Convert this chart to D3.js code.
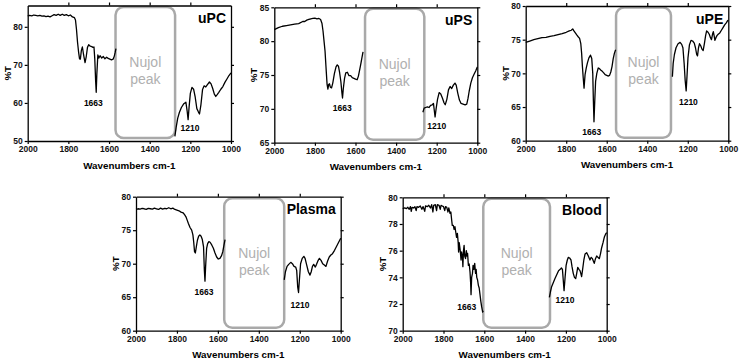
<!DOCTYPE html>
<html lang="en">
<head>
<meta charset="UTF-8">
<title>IR spectra</title>
<script src="https://cdn.jsdelivr.net/npm/d3@7"></script>
<style>
    body { margin: 0; background: #fff; }
    text { font-family: Arial, "Liberation Sans", sans-serif; }
</style>
</head>
<body>
<script>
    // wavenumber ticks shared by all panels
    var xTicks = [2000, 1800, 1600, 1400, 1200, 1000];

    // spectra: [wavenumber, %T], null = break at the Nujol region
    var upc = [[2000,82.9],[1990,83.0],[1980,82.9],[1970,83.1],[1960,83.0],[1950,82.9],[1940,83.0],[1930,82.8],[1920,82.9],[1910,82.7],[1900,82.8],[1890,82.6],[1880,82.9],[1870,83.2],[1860,83.0],[1850,83.3],[1840,83.0],[1830,83.3],[1820,83.0],[1810,83.2],[1800,82.9],[1790,83.1],[1780,82.6],[1770,82.4],[1765,81.8],[1760,79.3],[1755,76],[1750,73.5],[1745,71.6],[1741,71.5],[1736,73.8],[1731,74.7],[1725,72.6],[1718,70.6],[1712,72.2],[1706,74.6],[1700,75.3],[1692,74.9],[1685,74.8],[1679,74.6],[1674,74.7],[1670,71.5],[1666,66],[1663,62.8],[1660,67.5],[1655,72.6],[1650,71.8],[1644,72.4],[1636,71.8],[1628,72.2],[1620,71.6],[1612,72.0],[1604,71.7],[1596,71.5],[1588,71.3],[1580,71.5],[1574,72.3],[1570,73.2],[1566,74.3],
        null,
        [1276,51.2],[1270,53.5],[1262,56],[1254,57.5],[1244,58.8],[1232,59.8],[1222,60.2],[1216,58],[1211,55.6],[1206,59],[1200,62.5],[1192,64.1],[1184,63.6],[1176,61.5],[1168,58.5],[1160,57.6],[1155,57.1],[1148,59.5],[1140,63.5],[1132,64.5],[1124,64.2],[1116,64.8],[1106,65.5],[1098,65],[1090,63.8],[1082,62.3],[1075,61.7],[1068,62.2],[1060,62.8],[1050,63.6],[1040,64.3],[1030,65.4],[1020,66.3],[1010,67.2],[1000,67.9]];

    var ups = [[2000,81.7],[1980,82.0],[1960,82.2],[1940,82.3],[1920,82.4],[1900,82.5],[1880,82.6],[1860,82.9],[1850,82.9],[1840,83.1],[1830,83.2],[1820,83.3],[1810,83.35],[1800,83.4],[1790,83.3],[1780,83.35],[1772,83.2],[1765,82.6],[1760,81.5],[1755,80],[1750,78.5],[1745,76],[1740,73.6],[1736,72.9],[1732,73.6],[1728,73.7],[1724,73.2],[1718,73.1],[1712,73.8],[1704,75.2],[1696,76.2],[1690,76.5],[1684,76.3],[1678,75.3],[1672,74],[1667,72.4],[1664,71.6],[1660,73],[1654,74.5],[1648,75.3],[1640,75.4],[1632,74.9],[1624,74.9],[1616,74.6],[1608,74.5],[1600,74.4],[1592,74.3],[1586,74.8],[1580,75.7],[1574,76.6],[1568,77.6],[1563,78.4],
        null,
        [1268,69.5],[1262,70.1],[1254,70.2],[1246,70.3],[1238,70.2],[1230,70.5],[1222,70.6],[1216,70.8],[1212,69.8],[1208,68.8],[1203,70],[1196,71.4],[1188,72.4],[1180,72.2],[1172,71.6],[1164,70.9],[1158,70.6],[1150,71.4],[1142,72.8],[1134,73.3],[1126,73],[1118,73.5],[1110,73.8],[1104,73.5],[1096,72.3],[1088,71.3],[1080,70.8],[1070,70.7],[1060,70.6],[1052,70.7],[1046,71.5],[1040,72.6],[1032,73.8],[1024,74.6],[1016,75.1],[1008,75.6],[1000,76.2]];

    var upe = [[2000,74.6],[1980,74.8],[1960,75.0],[1940,75.15],[1920,75.3],[1900,75.35],[1880,75.5],[1860,75.6],[1840,75.75],[1820,75.9],[1800,76.1],[1785,76.3],[1775,76.4],[1768,76.6],[1762,76.3],[1755,76.0],[1748,75.7],[1740,75.4],[1734,75.2],[1728,74.4],[1724,73],[1720,71],[1716,69.3],[1712,67.8],[1707,69.8],[1701,70.8],[1695,71.6],[1688,72.3],[1680,72.7],[1674,72.2],[1669,70],[1666,66],[1663,62.8],[1659,66],[1655,68.8],[1649,70],[1642,70.8],[1636,70.7],[1630,70.5],[1622,70.3],[1616,70.1],[1608,69.8],[1600,69.7],[1592,69.6],[1586,69.7],[1580,70.2],[1574,71],[1568,72.2],[1562,73],[1556,73.5],
        null,
        [1276,69.5],[1272,71.5],[1266,72.8],[1258,73.8],[1248,74.4],[1238,74.6],[1230,74.3],[1224,73.8],[1218,71.5],[1213,69],[1208,67.4],[1204,69.5],[1199,72.3],[1192,74.2],[1184,74.9],[1176,74.8],[1168,74.5],[1162,73.8],[1156,72.8],[1152,72.6],[1147,73.8],[1142,74.4],[1136,74.1],[1130,73.6],[1124,73.4],[1118,74.4],[1112,75.6],[1107,76.3],[1100,76.1],[1094,75.8],[1088,75.3],[1083,75],[1078,75.8],[1074,76.2],[1070,75.6],[1066,74.9],[1061,75.3],[1056,75.6],[1050,75.8],[1042,76.0],[1034,76.4],[1026,76.8],[1018,77.2],[1010,77.5],[1004,77.8],[1000,77.9]];

    var plasma = [[2000,78.1],[1990,78.2],[1980,78.15],[1970,78.25],[1960,78.2],[1950,78.1],[1940,78.25],[1930,78.2],[1920,78.15],[1910,78.3],[1900,78.2],[1890,78.1],[1880,78.3],[1870,78.15],[1860,78.25],[1850,78.2],[1840,78.35],[1830,78.2],[1820,78.3],[1810,78.1],[1800,78.0],[1790,77.9],[1780,77.7],[1770,77.6],[1762,77.3],[1756,77.0],[1750,76.5],[1744,76.0],[1736,75.4],[1728,75.0],[1722,74.3],[1718,73.2],[1714,71.8],[1710,71.6],[1705,72.6],[1700,73.5],[1694,74.1],[1688,74.3],[1682,74.1],[1676,73.6],[1670,72.5],[1666,69],[1663,67.4],[1660,69.5],[1655,72.3],[1650,73.0],[1644,73.3],[1638,73.2],[1630,72.8],[1622,72.3],[1614,71.6],[1606,71.0],[1598,70.7],[1590,70.8],[1582,71.2],[1576,71.8],[1570,72.8],[1565,73.6],
        null,
        [1276,67.6],[1270,68.8],[1262,69.6],[1254,69.9],[1244,70.2],[1236,70.0],[1228,69.6],[1220,69.5],[1215,69.0],[1210,66.5],[1206,65.7],[1202,67.5],[1196,70.0],[1188,70.8],[1180,71.1],[1174,70.8],[1166,69.8],[1158,68.8],[1150,68.3],[1144,68.8],[1138,69.6],[1132,69.9],[1124,69.5],[1118,69.9],[1110,70.5],[1104,70.8],[1096,70.5],[1088,70.0],[1080,69.8],[1072,69.6],[1064,70.4],[1056,71.0],[1048,71.3],[1040,71.5],[1030,72.0],[1020,72.6],[1010,73.2],[1000,73.8]];

    var blood = [[2000,79.15],[1990,79.2],[1982,79.15],[1975,79.25],[1968,79.1],[1962,79.3],[1958,78.95],[1954,79.25],[1946,79.2],[1940,79.3],[1934,79.0],[1930,79.3],[1922,79.25],[1914,79.35],[1906,79.1],[1900,79.3],[1892,78.95],[1888,79.35],[1880,79.3],[1872,79.4],[1864,79.2],[1858,79.45],[1852,78.9],[1848,79.4],[1840,79.45],[1834,79.0],[1830,79.45],[1822,79.4],[1816,79.1],[1812,79.4],[1806,79.35],[1800,79.3],[1794,79.0],[1790,79.3],[1784,79.25],[1778,78.9],[1774,79.2],[1768,78.8],[1764,78.9],[1760,78.3],[1757,77.9],[1752,77.9],[1748,77.6],[1744,77.8],[1740,77.4],[1736,77.0],[1732,77.3],[1728,76.6],[1726,75.9],[1723,76.6],[1718,76.0],[1714,75.3],[1711,75.9],[1707,75.5],[1705,74.8],[1702,76.0],[1699,76.4],[1696,75.6],[1692,75.4],[1688,76.0],[1685,75.6],[1682,75.8],[1678,74.9],[1674,75.0],[1670,74.4],[1667,73.6],[1665,72.7],[1662,74.0],[1658,74.3],[1655,74.9],[1651,74.6],[1647,75.05],[1643,74.3],[1640,74.6],[1637,74.0],[1633,73.8],[1629,73.4],[1625,73.2],[1621,72.7],[1617,72.2],[1613,71.8],[1608,71.4],[1605,71.5],
        null,
        [1281,72.5],[1276,72.9],[1270,73.3],[1262,73.6],[1254,73.9],[1245,74.2],[1236,74.5],[1228,74.6],[1222,74.7],[1217,74.6],[1213,73.8],[1209,73.0],[1204,74.0],[1199,74.9],[1193,75.3],[1188,75.5],[1182,75.45],[1175,75.3],[1170,74.8],[1164,74.3],[1158,74.0],[1152,73.9],[1147,74.3],[1142,74.75],[1136,74.6],[1131,74.5],[1127,74.3],[1123,74.05],[1118,74.6],[1112,75.3],[1106,75.75],[1098,75.85],[1090,75.6],[1082,75.3],[1076,75.5],[1070,75.4],[1065,75.2],[1061,75.05],[1055,75.4],[1049,75.6],[1043,75.5],[1036,75.4],[1030,75.8],[1025,76.2],[1018,76.6],[1011,77.05],[1005,77.25],[1000,77.35]];

    // panel names, y ranges and ticks
    var names = ["uPC", "uPS", "uPE", "Plasma", "Blood"];
    var spectra = [upc, ups, upe, plasma, blood];
    var yDomains = [[50, 85.6], [65, 85], [60, 80], [60, 80], [70, 80]];
    var yTicks = [[50, 60, 70, 80], [65, 70, 75, 80, 85], [60, 65, 70, 75, 80], [60, 65, 70, 75, 80], [70, 72, 74, 76, 78, 80]];
    // Nujol window (wavenumbers) per panel
    var nujolRanges = [[1568, 1275], [1553, 1261], [1554, 1283], [1569, 1276], [1605, 1278]];
    // peak labels: [wavenumber, %T, text]
    var peakLabels = [
        [[1677, 60.1, "1663"], [1202, 53.4, "1210"]],
        [[1665, 70.1, "1663"], [1200, 67.4, "1210"]],
        [[1674, 61.3, "1663"], [1197, 65.8, "1210"]],
        [[1668, 65.7, "1663"], [1199, 63.8, "1210"]],
        [[1686, 71.75, "1663"], [1204, 72.3, "1210"]]
    ];

    // plot boxes in pixels
    var boxes = [
        {x0: 27.7, x1: 231, y0: 5.5, y1: 141},
        {x0: 274.3, x1: 477.3, y0: 7.3, y1: 142.7},
        {x0: 525.7, x1: 728.3, y0: 6, y1: 140.7},
        {x0: 136, x1: 340.7, y0: 196.7, y1: 330.7},
        {x0: 402.7, x1: 606.7, y0: 197.3, y1: 330.7}
    ];

    var svg = d3.select("body")
                .append("svg")
                .attr("width", 741)
                .attr("height", 361);

    names.forEach(function (name, i) {
        var b = boxes[i];
        var x = d3.scaleLinear().domain([2000, 1000]).range([b.x0, b.x1]);
        var y = d3.scaleLinear().domain(yDomains[i]).range([b.y1, b.y0]);
        var g = svg.append("g");
        var midY = (b.y0 + b.y1) / 2;

        // Nujol box
        var nx0 = x(nujolRanges[i][0]), nx1 = x(nujolRanges[i][1]);
        g.append("rect")
            .attr("x", nx0).attr("y", b.y0 + 1.5)
            .attr("width", nx1 - nx0).attr("height", b.y1 - b.y0 - 4.5)
            .attr("rx", 8).attr("ry", 8)
            .attr("fill", "none")
            .attr("stroke", "#a9a9a9")
            .attr("stroke-width", 2.5);
        g.append("text").attr("x", (nx0 + nx1) / 2).attr("y", midY - 6)
            .attr("text-anchor", "middle").attr("font-size", 14).attr("fill", "#b0b0b0").text("Nujol");
        g.append("text").attr("x", (nx0 + nx1) / 2).attr("y", midY + 11)
            .attr("text-anchor", "middle").attr("font-size", 14).attr("fill", "#b0b0b0").text("peak");

        // spectrum
        var line = d3.line()
                    .defined(function (d) { return d !== null; })
                    .x(function (d) { return x(d[0]); })
                    .y(function (d) { return y(d[1]); });
        g.append("path")
            .datum(spectra[i])
            .attr("d", line)
            .attr("fill", "none")
            .attr("stroke", "#000")
            .attr("stroke-width", 1.3)
            .attr("stroke-linejoin", "round");

        // axes
        var axB = g.append("g").attr("transform", "translate(0," + b.y1 + ")")
            .call(d3.axisBottom(x).tickValues(xTicks).tickSizeInner(3).tickSizeOuter(0).tickFormat(d3.format("d")));
        axB.selectAll("text").attr("y", 5);
        g.append("g").attr("transform", "translate(0," + b.y0 + ")")
            .call(d3.axisTop(x).tickValues(xTicks.slice(1, 5)).tickSizeInner(3).tickSizeOuter(0).tickFormat(""));
        g.append("g").attr("transform", "translate(" + b.x0 + ",0)")
            .call(d3.axisLeft(y).tickValues(yTicks[i]).tickSizeInner(3).tickSizeOuter(0).tickPadding(2));
        g.append("g").attr("transform", "translate(" + b.x1 + ",0)")
            .call(d3.axisRight(y).tickValues(yTicks[i]).tickSizeInner(3).tickSizeOuter(0).tickFormat(""));
        g.selectAll(".domain").attr("stroke-width", 1.3);
        g.selectAll(".tick line").attr("stroke-width", 1.2);
        g.selectAll(".tick text")
            .attr("font-size", 8.5)
            .attr("font-weight", "bold")
            .attr("font-family", "Arial, 'Liberation Sans', sans-serif")
            .attr("fill", "#111");

        // axis titles
        g.append("text").attr("x", (b.x0 + b.x1) / 2).attr("y", b.y1 + 27.5)
            .attr("text-anchor", "middle").attr("font-size", 9.8).attr("font-weight", "bold")
            .text("Wavenumbers cm-1");
        g.append("text")
            .attr("transform", "translate(" + (b.x0 - 17) + "," + midY + ") rotate(-90)")
            .attr("text-anchor", "middle").attr("font-size", 9.8).attr("font-weight", "bold")
            .text("%T");

        // panel name
        g.append("text").attr("x", b.x1 - 5).attr("y", b.y0 + 17.5)
            .attr("text-anchor", "end").attr("font-size", 14).attr("font-weight", "bold")
            .text(name);

        // peak labels
        g.selectAll(".peak")
            .data(peakLabels[i])
            .enter()
            .append("text")
            .attr("x", function (d) { return x(d[0]); })
            .attr("y", function (d) { return y(d[1]); })
            .attr("dy", "0.35em")
            .attr("text-anchor", "middle")
            .attr("font-size", 8.5)
            .attr("font-weight", "bold")
            .text(function (d) { return d[2]; });
    });
</script>
</body>
</html>
